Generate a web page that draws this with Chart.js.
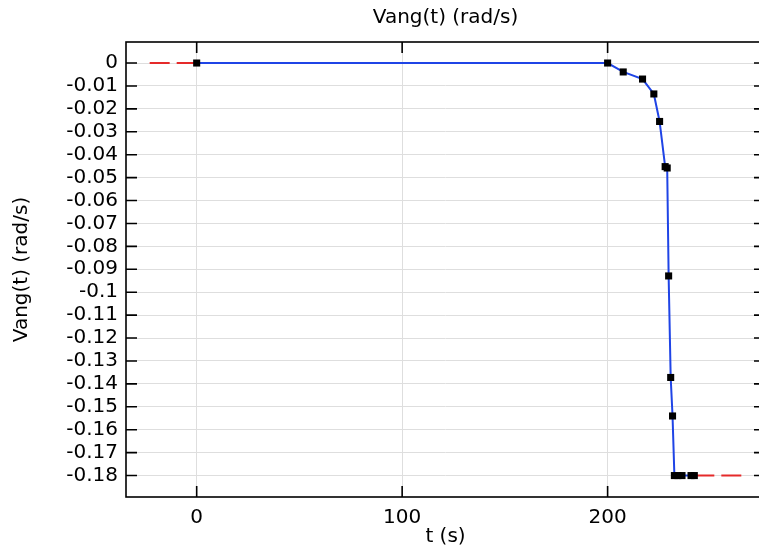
<!DOCTYPE html>
<html>
<head>
<meta charset="UTF-8">
<title>Vang(t)</title>
<script src="https://cdn.jsdelivr.net/npm/chart.js"></script>
<style>
    html, body {
        margin: 0;
        overflow: hidden;
        background: #fff;
    }
    #clip {
        width: 759px;
        height: 552px;
        overflow: hidden;
        position: relative;
    }
    #vangChart {
        display: block;
        position: absolute;
        left: 0;
        top: 0;
    }
</style>
</head>
<body>
<!-- 右端の枠線は参照図では画面外なので、キャンバスを少し広くして切り取る -->
<div id="clip">
    <canvas id="vangChart" width="766" height="552"></canvas>
</div>
<script>
    // 時刻 (s) と角速度 (rad/s)
    const tValues = [0, 200, 207.6, 217.0, 222.5, 225.3, 228.0, 229.0, 229.7, 230.7, 231.6, 232.5, 234.2, 236.2, 240.6, 242.2];
    const vValues = [0, 0, -0.0039, -0.0070, -0.0135, -0.0255, -0.0452, -0.0458, -0.0929, -0.1372, -0.1540, -0.18, -0.18, -0.18, -0.18, -0.18];

    // 外挿 (赤の破線)
    const leftExtT = [0, -24.3];
    const leftExtV = [0, 0];
    const rightExtT = [242.2, 266.8];
    const rightExtV = [-0.18, -0.18];

    // 目盛
    const xTicks = [0, 100, 200];
    const xTickLabels = ['0', '100', '200'];
    const yTicks = [0, -0.01, -0.02, -0.03, -0.04, -0.05, -0.06, -0.07, -0.08, -0.09, -0.1,
        -0.11, -0.12, -0.13, -0.14, -0.15, -0.16, -0.17, -0.18];
    const yTickLabels = ['0', '-0.01', '-0.02', '-0.03', '-0.04', '-0.05', '-0.06', '-0.07', '-0.08', '-0.09', '-0.1',
        '-0.11', '-0.12', '-0.13', '-0.14', '-0.15', '-0.16', '-0.17', '-0.18'];

    const toPoints = (xs, ys) => xs.map((x, i) => ({x: x, y: ys[i]}));

    const FONT = {family: 'DejaVu Sans', size: 20, weight: 'normal'};

    // 枠線と内向きの目盛線
    const framePlugin = {
        id: 'frame',
        afterDraw(chart) {
            const ctx = chart.ctx;
            const a = chart.chartArea;
            const xs = chart.scales.x;
            const ys = chart.scales.y;
            const len = 11;
            ctx.save();
            ctx.strokeStyle = '#000';
            ctx.lineWidth = 1.6;
            ctx.strokeRect(a.left, a.top, a.right - a.left, a.bottom - a.top);
            ctx.beginPath();
            xTicks.forEach(v => {
                const px = xs.getPixelForValue(v);
                ctx.moveTo(px, a.bottom); ctx.lineTo(px, a.bottom - len);
                ctx.moveTo(px, a.top); ctx.lineTo(px, a.top + len);
            });
            yTicks.forEach(v => {
                const py = ys.getPixelForValue(v);
                ctx.moveTo(a.left, py); ctx.lineTo(a.left + len, py);
                ctx.moveTo(a.right, py); ctx.lineTo(a.right - len, py);
            });
            ctx.stroke();
            ctx.restore();
        }
    };

    new Chart(document.getElementById('vangChart'), {
        type: 'scatter',
        data: {
            datasets: [
                {
                    data: toPoints(tValues, vValues),
                    showLine: true,
                    borderColor: '#1f44e6',
                    borderWidth: 2,
                    pointStyle: 'rect',
                    pointRadius: 5,
                    pointBorderWidth: 0,
                    pointBackgroundColor: '#000',
                    pointBorderColor: '#000',
                    order: 0
                },
                {
                    data: toPoints(leftExtT, leftExtV),
                    showLine: true,
                    borderColor: '#e52a2a',
                    borderWidth: 2,
                    borderDash: [20, 7],
                    pointRadius: 0,
                    order: 1
                },
                {
                    data: toPoints(rightExtT, rightExtV),
                    showLine: true,
                    borderColor: '#e52a2a',
                    borderWidth: 2,
                    borderDash: [20, 7],
                    pointRadius: 0,
                    order: 1
                }
            ]
        },
        options: {
            responsive: false,
            animation: false,
            // 点の大きさによる自動余白を切る (右端を画面外に出すため)
            layout: {autoPadding: false, padding: {left: 0, right: 1, top: 0, bottom: 0}},
            plugins: {
                legend: {display: false},
                tooltip: {enabled: false}
            },
            scales: {
                x: {
                    type: 'linear',
                    position: 'bottom',
                    min: -34.4,
                    max: 276.6,
                    afterBuildTicks: (scale) => {
                        scale.ticks = xTicks.map(v => ({value: v}));
                    },
                    afterFit: (scale) => {
                        scale.height = 55;
                        scale.paddingLeft = 0;
                        scale.paddingRight = 0;
                    },
                    ticks: {
                        color: '#000',
                        font: FONT,
                        padding: 9,
                        maxRotation: 0,
                        autoSkip: false,
                        callback: (value, index) => xTickLabels[index]
                    },
                    grid: {color: '#dedede', lineWidth: 1, drawTicks: false},
                    border: {display: false},
                    title: {
                        display: true,
                        text: 't (s)',
                        color: '#000',
                        font: FONT,
                        padding: {top: 0, bottom: 3}
                    }
                },
                // グラフタイトル用の上側の軸 (プロット領域の中央に揃える)
                xTop: {
                    type: 'linear',
                    position: 'top',
                    min: -34.4,
                    max: 276.6,
                    afterFit: (scale) => {
                        scale.height = 42;
                        scale.paddingLeft = 0;
                        scale.paddingRight = 0;
                    },
                    ticks: {display: false},
                    grid: {display: false, drawTicks: false},
                    border: {display: false},
                    title: {
                        display: true,
                        text: 'Vang(t) (rad/s)',
                        color: '#000',
                        font: FONT,
                        padding: {top: 6, bottom: 0}
                    }
                },
                y: {
                    type: 'linear',
                    min: -0.18935,
                    max: 0.00917,
                    afterBuildTicks: (scale) => {
                        scale.ticks = yTicks.map(v => ({value: v}));
                    },
                    afterFit: (scale) => {
                        scale.width = 126;
                    },
                    ticks: {
                        color: '#000',
                        font: FONT,
                        padding: 8,
                        autoSkip: false,
                        callback: (value, index) => yTickLabels[index]
                    },
                    grid: {color: '#dedede', lineWidth: 1, drawTicks: false},
                    border: {display: false},
                    title: {
                        display: true,
                        text: 'Vang(t) (rad/s)',
                        color: '#000',
                        font: FONT,
                        padding: {top: 10, bottom: 0}
                    }
                }
            }
        },
        plugins: [framePlugin]
    });
</script>
</body>
</html>
